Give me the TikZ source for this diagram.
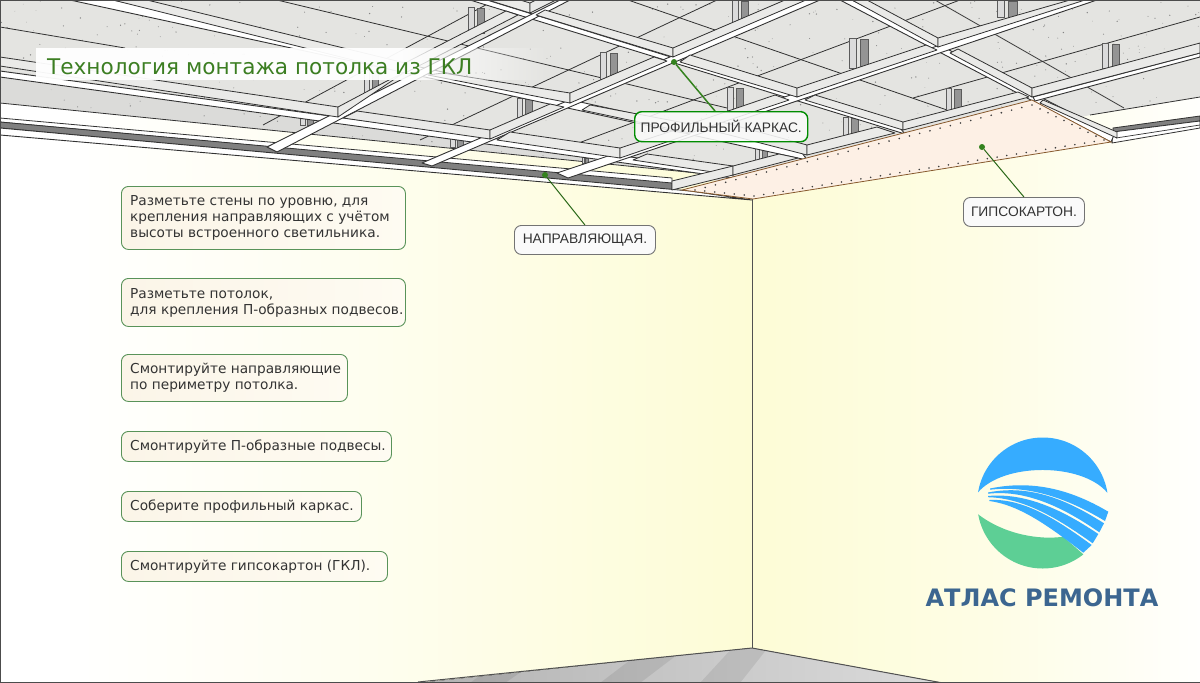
\documentclass[tikz,border=0pt]{standalone}
\usepackage{fontspec}
\setmainfont{DejaVu Sans}
\newfontfamily\labelfont{Liberation Sans}
\newfontfamily\brandfont{DejaVu Sans}
\usetikzlibrary{calc,fadings}
\definecolor{wallcream}{RGB}{253,252,214}
\definecolor{concrete}{RGB}{228,228,225}
\definecolor{beamgray}{RGB}{234,234,232}
\definecolor{edgedark}{RGB}{50,50,50}
\definecolor{boardpeach}{RGB}{253,240,229}
\definecolor{titlegreen}{RGB}{60,126,34}
\definecolor{leadgreen}{RGB}{52,130,30}
\definecolor{logoblue}{RGB}{54,172,255}
\definecolor{logogreen}{RGB}{93,207,149}
\definecolor{brandblue}{RGB}{60,102,144}
\definecolor{stepwarm}{RGB}{251,245,232}
\definecolor{steplight}{RGB}{254,251,242}
\pgfdeclarehorizontalshading{wallleft}{100bp}{color(0bp)=(white); color(29bp)=(white); color(50bp)=(wallcream!40!white); color(63bp)=(wallcream!72!white); color(75bp)=(wallcream); color(100bp)=(wallcream)}
\pgfdeclarehorizontalshading{wallright}{100bp}{color(0bp)=(wallcream); color(25bp)=(wallcream); color(52bp)=(wallcream!62!white); color(75bp)=(white!95!wallcream); color(100bp)=(white)}
\tikzset{
  beamface/.style={fill=beamgray,draw=edgedark,line width=0.8pt,line join=round},
  beamstrip/.style={fill=white,draw=edgedark,line width=0.9pt,line join=round},
  panelline/.style={draw=edgedark,line width=0.8pt},
  stepbox/.style={draw=green!35!black!65,line width=0.9pt,rounded corners=7pt,left color=stepwarm,right color=steplight,
    anchor=north west,inner sep=0pt},
  steptext/.style={anchor=west,inner sep=0pt,align=left,text=black!80,font=\fontsize{13.7}{16}\selectfont},
  partlabel/.style={draw=black!55,line width=0.9pt,fill=white!98!black,rounded corners=7pt,anchor=north west,inner sep=0pt,
    text=black!80,font=\labelfont\fontsize{13.8}{16}\selectfont},
  leaddot/.style={circle,fill=leadgreen,inner sep=0pt,minimum size=6pt},
  leadline/.style={draw=leadgreen!80!black,line width=1pt}
}
\begin{document}
\begin{tikzpicture}[x=1pt,y=-1pt]
  \useasboundingbox (0,0) rectangle (1200,683);
  \clip (0,0) rectangle (1200,683);
  % walls and floor
  \shade[shading=wallleft] (0,90) -- (752,90) -- (752,683) -- (0,683) -- cycle;
  \shade[shading=wallright] (752,90) -- (1200,90) -- (1200,683) -- (752,683) -- cycle;
  \begin{scope}
    \clip (418,683) -- (752,648) -- (943,683) -- cycle;
    \fill[left color=black!30,right color=black!14] (418,640) rectangle (943,683);
    \foreach \ax/\bx/\cx/\dx in {470/520/560/505,600/650/690/640,700/735/770/740}
      \fill[black,opacity=0.08] (\ax,683) -- (\bx,645) -- (\cx,645) -- (\dx,683) -- cycle;
  \end{scope}
  \draw[edgedark!85,line width=1pt] (418,682) -- (752,648) -- (943,683);
  \draw[edgedark!85,line width=1pt] (752,198) -- (752,648);
  % concrete slab, speckled
  \begin{scope}
    \clip (0,0) -- (1200,0) -- (1200,97) -- (1090,115) -- (752,195) -- (697,173) -- (0,103) -- cycle;
    \fill[concrete] (0,0) rectangle (1200,200);
    \fill[black,opacity=0.035] (0,70) -- (733,170) -- (733,200) -- (0,200) -- cycle;
    \pgfmathsetseed{17}
    \foreach \i in {1,...,750}{
      \pgfmathsetmacro{\px}{1200*rnd}
      \pgfmathsetmacro{\py}{190*rnd}
      \pgfmathsetmacro{\pr}{0.25+0.5*rnd}
      \fill[black!48] (\px,\py) circle (\pr);
    }
  \end{scope}
  \draw[panelline] (0,103) -- (697,173);
  \draw[panelline] (1090,115) -- (1200,97);
  % panel joints
  \foreach \ax/\ay/\bx/\by in {
      0/27/125/48, 277/0/727/108, 628/0/947/110, 935/0/1124/108,
      263/125/495/0, 420/140/717/0, 560/150/960/0, 913/98/1200/17}
    \draw[panelline] (\ax,\ay) -- (\bx,\by);
  % hangers
  \foreach \hx/\hy/\hw/\hh in {
      732/0/16/22, 849/38/19/30, 727/87/16/23, 843/117/15/20, 600/52/17/28, 755/148/12/12,
      997/0/20/17, 1102/43/17/25, 946/88/15/22, 468/7/16/26, 364/70/14/22, 517/98/15/19,
      450/138/13/9, 582/157/6/6, 300/117/13/8}{
    \filldraw[fill=black!14,draw=edgedark!80,line width=0.5pt] (\hx,\hy) rectangle ++(0.38*\hw,\hh);
    \filldraw[fill=black!42,draw=edgedark!80,line width=0.5pt] (\hx+0.58*\hw,\hy+1) rectangle ++(0.42*\hw,\hh-1);
  }
  % wall guide rails
  \filldraw[fill=white,draw=edgedark,line width=0.8pt] (0,118) -- (672,178) -- (672,184) -- (0,122) -- cycle;
  \filldraw[fill=black!50,draw=edgedark,line width=0.8pt] (0,122) -- (672,183) -- (672,190) -- (0,128) -- cycle;
  \filldraw[fill=white,draw=edgedark,line width=0.9pt] (0,128) -- (690,191) -- (752,200) -- (0,135) -- cycle;
  \filldraw[fill=black!50,draw=edgedark,line width=0.8pt] (1113,128) -- (1200,116) -- (1200,121) -- (1113,132) -- cycle;
  \filldraw[fill=white,draw=edgedark,line width=0.8pt] (1113,132) -- (1200,121) -- (1200,128) -- (1112,143) -- cycle;
  \draw[edgedark,line width=0.7pt] (1116,138) -- (1200,125);
  % white flanges of the frame
  \foreach \ax/\ay/\bx/\by/\cx/\cy/\dx/\dy in {
      0/71/733/171/733/178/0/77,
      113/0/800/150/807/160/70/0,
      487/0/900/128/905/134/470/0,
      852/0/1114/135/1111/142/840/0,
      267/147/560/0/570/0/277/152,
      422/163/803/0/820/0/432/166,
      557/173/1075/0/1097/0/568/178,
      1033/97/1200/53/1200/57/1035/101}
    \filldraw[beamstrip] (\ax,\ay) -- (\bx,\by) -- (\cx,\cy) -- (\dx,\dy) -- cycle;
  % faces of the frame, cell by cell
  \foreach \ax/\ay/\bx/\by/\cx/\cy/\dx/\dy in {
      0/57/338/107/338/117/0/66,
      357/111/490/130/490/139/343/118,
      510/132/620/148/620/158/497/140,
      647/154/733/166/733/175/633/160,
      147/0/405/63/405/73/113/0,
      443/73/570/93/570/103/428/75,
      590/105/690/124/690/133/582/110,
      722/122/807/145/807/155/710/130,
      520/0/530/3/530/13/488/0,
      545/10/673/48/673/57/536/15,
      690/55/797/88/797/97/680/62,
      815/95/903/122/903/130/805/100,
      867/0/938/38/938/47/852/0,
      958/49/1032/88/1032/97/950/53,
      1043/100/1117/132/1117/138/1040/103,
      338/107/385/82/405/72/338/117,
      405/63/506/11/518/15/405/73,
      530/3/536/0/556/0/530/13,
      490/130/550/104/564/107/490/139,
      570/93/654/57/667/61/570/103,
      673/48/785/0/806/0/673/57,
      620/148/672/131/690/134/620/158,
      690/124/775/95/789/100/690/133,
      797/88/926/45/937/50/797/97,
      938/38/1070/0/1085/0/938/47,
      672/181/733/166/733/175/672/190,
      733/166/779/154/798/158/733/175,
      807/145/877/127/895/133/807/155,
      903/122/1018/92/1029/97/903/130,
      1032/88/1200/43/1200/53/1032/97}
    \filldraw[beamface] (\ax,\ay) -- (\bx,\by) -- (\cx,\cy) -- (\dx,\dy) -- cycle;
  % plasterboard sheet with its screws
  \coordinate (boarda) at (682,190);
  \coordinate (boardb) at (753,199);
  \coordinate (boardc) at (1111,142);
  \coordinate (boardd) at (1032,100);
  \filldraw[fill=boardpeach,draw=brown!70!black,line width=0.8pt] (boarda) -- (boardb) -- (boardc) -- (boardd) -- cycle;
  \coordinate (rowa) at (695,190);
  \coordinate (rowb) at (754,196);
  \coordinate (rowc) at (1104,140);
  \coordinate (rowd) at (1032,105);
  \foreach \sa/\sb/\sn in {rowa/rowb/6,rowb/rowc/36,rowc/rowd/9,rowd/rowa/33}
    \foreach \i in {1,...,\sn}
      \fill[black!75] ($(\sa)!\i/\sn!(\sb)$) circle (0.9);
  % title strip
  \fill[white,opacity=0.95] (36,48) rectangle (400,80);
  \fill[white,opacity=0.95,path fading=east] (400,48) rectangle (548,80);
  \node[anchor=base west,inner sep=0pt,text=titlegreen,font=\fontsize{21.6}{26}\selectfont] (title) at (47,74) {Технология монтажа потолка из ГКЛ};
  % work steps
  \foreach \name/\sy/\sw/\sh/\txt in {
      stepa/186/284/63/{Разметьте стены по уровню, для\\крепления направляющих с учётом\\высоты встроенного светильника.},
      stepb/278/284/48/{Разметьте потолок,\\для крепления П-образных подвесов.},
      stepc/354/226/47/{Смонтируйте направляющие\\по периметру потолка.},
      stepd/431/270/30/{Смонтируйте П-образные подвесы.},
      stepe/491/240/30/{Соберите профильный каркас.},
      stepf/551/266/30/{Смонтируйте гипсокартон (ГКЛ).}}{
    \node[stepbox,minimum width=\sw pt,minimum height=\sh pt] (\name) at (121,\sy) {};
    \node[steptext] (\name text) at ($(\name.west)+(9,0)$) {\txt};
  }
  % part labels and their leaders
  \node[partlabel,minimum width=141pt,minimum height=29pt] (guidelabel) at (514,225) {НАПРАВЛЯЮЩАЯ.};
  \node[partlabel,minimum width=173pt,minimum height=30pt,draw=green!55!black,line width=1.4pt,fill opacity=0.88,text opacity=1] (framelabel) at (634,111) {ПРОФИЛЬНЫЙ КАРКАС.};
  \node[partlabel,minimum width=121pt,minimum height=29pt] (boardlabel) at (963,197) {ГИПСОКАРТОН.};
  \node[leaddot] (guidedot) at (545,175) {};
  \node[leaddot] (framedot) at (674,62) {};
  \node[leaddot] (boarddot) at (982,147) {};
  \coordinate (frameend) at (715,111);
  \draw[leadline] (guidedot) -- (guidelabel.north);
  \draw[leadline,line width=1.5pt,draw=leadgreen] (framedot) -- (frameend);
  \draw[leadline] (boarddot) -- (boardlabel.north);
  % logo
  \coordinate (logocentre) at (1042.7,503);
  \begin{scope}
    \clip (logocentre) circle (65.5);
    \fill[logoblue] (977.7,492.7) .. controls (1003,462.4) and (1082,462.4) .. (1107.3,492.7) -- (1115,490) -- (1115,430) -- (970,430) -- (970,490) -- cycle;
    \fill[logogreen] (977.7,514) .. controls (1005,535) and (1040,540) .. (1063.3,536.7) -- (1083.3,554.3) -- (1083,575) -- (970,575) -- (970,514) -- cycle;
  \end{scope}
  \fill[logoblue] (990,488.5) .. controls (1040,478) and (1080,495) .. (1108.3,511.7) -- (1105,521) .. controls (1075,503) and (1035,484.5) .. (990,489.7) -- cycle;
  \fill[logoblue] (988,492.5) .. controls (1035,483) and (1075,505) .. (1104,523.3) -- (1099.3,532.3) .. controls (1070,512) and (1030,489) .. (988,493.7) -- cycle;
  \fill[logoblue] (988,496) .. controls (1030,492) and (1070,515) .. (1098.3,534) -- (1092.7,543.3) .. controls (1060,520) and (1025,498) .. (988,497.2) -- cycle;
  \fill[logoblue] (989.3,500) .. controls (1025,498) and (1060,522) .. (1091.7,545) -- (1083.3,552.7) .. controls (1050,527) and (1020,505) .. (989.3,501) -- cycle;
  \node[anchor=base,inner sep=0pt,text=brandblue,font=\brandfont\bfseries\fontsize{24}{28}\selectfont] (brand) at (1042,606) {АТЛАС РЕМОНТА};
  % frame of the sheet
  \draw[black!70,line width=1.5pt] (0,0) -- (1200,0);
  \draw[black!70,line width=1.5pt] (0,0) -- (0,683) -- (1200,683);
  \draw[black!35,line width=1pt] (1200,0) -- (1200,683);
\end{tikzpicture}
\end{document}
